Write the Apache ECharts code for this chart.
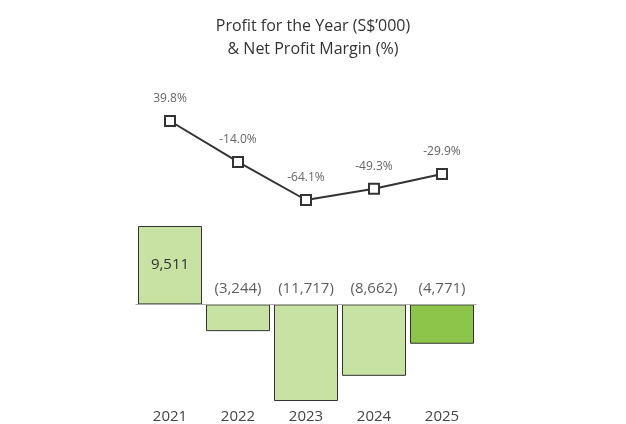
<!DOCTYPE html>
<html>
<head>
<meta charset="utf-8">
<script src="https://cdn.jsdelivr.net/npm/echarts@6/dist/echarts.min.js"></script>
<style>html,body{margin:0;background:#fff}#main{width:626px;height:424px}</style>
</head>
<body>
<div id="main"></div>
<script>
var years = ['2021', '2022', '2023', '2024', '2025'];
var profit = [9511, -3244, -11717, -8662, -4771];
var margin = [39.8, -14.0, -64.1, -49.3, -29.9];

function fmt(v) {
    var s = Math.abs(v).toLocaleString('en-US');
    return v < 0 ? '(' + s + ')' : s;
}

var chart = echarts.init(document.getElementById('main'));
chart.setOption({
    animation: false,
    title: {
        text: 'Profit for the Year (S$\u2019000)\n& Net Profit Margin (%)',
        left: 'center', top: 10,
        textStyle: { fontFamily: 'Open Sans', fontSize: 16, fontWeight: 'normal', color: '#333', lineHeight: 23 }
    },
    grid: [
        { left: 136, width: 340, top: 121, height: 79 },
        { left: 136, width: 340, top: 226, bottom: 19 }
    ],
    xAxis: [
        { gridIndex: 0, type: 'category', data: years, show: false },
        {
            gridIndex: 1, type: 'category', data: years,
            axisLine: { lineStyle: { color: '#aaa' } }, axisTick: { show: false },
            axisLabel: { color: '#444', fontFamily: 'Open Sans', fontSize: 15, margin: 8 }, z: 10
        }
    ],
    yAxis: [
        { gridIndex: 0, show: false, min: -64.1, max: 39.8 },
        { gridIndex: 1, show: false, min: -11717, max: 9511 }
    ],
    series: [
        {
            type: 'line', xAxisIndex: 0, yAxisIndex: 0, data: margin,
            lineStyle: { color: '#333', width: 2 },
            symbol: 'rect', symbolSize: 10,
            itemStyle: { color: '#fff', borderColor: '#333', borderWidth: 2 },
            label: {
                show: true, position: 'top', distance: 10, color: '#666', fontFamily: 'Open Sans', fontSize: 12,
                formatter: function (p) { return p.value.toFixed(1) + '%'; }
            }
        },
        {
            type: 'bar', xAxisIndex: 1, yAxisIndex: 1, barWidth: 64,
            data: profit.map(function (v, i) {
                return { value: v, itemStyle: { color: i === 4 ? '#8dc44a' : '#c7e2a2' } };
            }),
            itemStyle: { borderColor: '#333', borderWidth: 1 },
            label: {
                show: true, position: 'inside', color: '#333', fontFamily: 'Open Sans', fontSize: 15,
                formatter: function (p) { return p.value > 0 ? fmt(p.value) : ''; }
            }
        },
        {
            type: 'scatter', xAxisIndex: 1, yAxisIndex: 1, symbolSize: 0, silent: true,
            data: profit.map(function (v, i) { return [i, 0, v]; }),
            label: {
                show: true, position: 'top', distance: 8, color: '#333', fontFamily: 'Open Sans', fontSize: 15,
                formatter: function (p) { return p.value[2] < 0 ? fmt(p.value[2]) : ''; }
            }
        }
    ]
});
</script>
</body>
</html>
